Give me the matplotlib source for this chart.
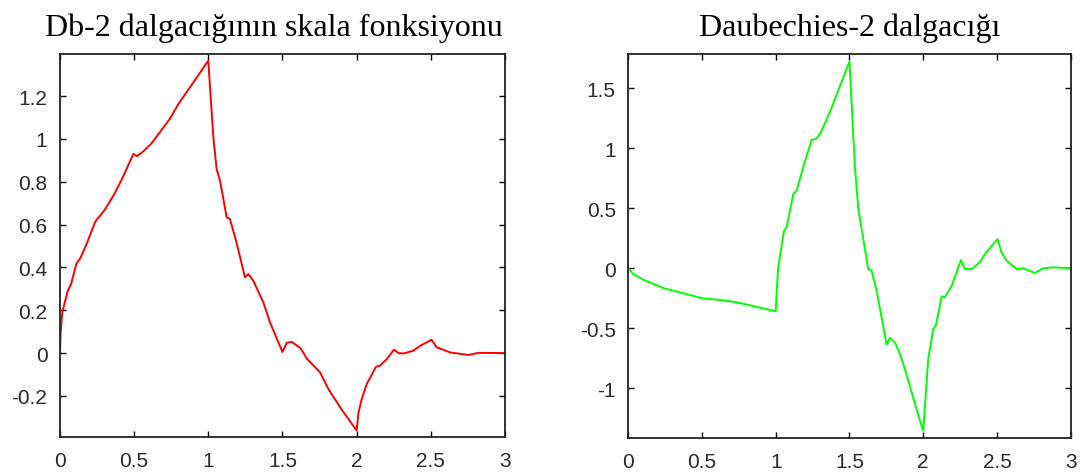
import matplotlib
matplotlib.use("Agg")
import matplotlib.pyplot as plt

# Db-2 scaling function
phi_x = [0, 0.005, 0.016, 0.052, 0.074, 0.112, 0.135, 0.18, 0.236, 0.25, 0.263,
         0.303, 0.36, 0.416, 0.495, 0.52, 0.562, 0.618, 0.742, 0.798, 0.9, 1.0,
         1.034, 1.056, 1.079, 1.124, 1.146, 1.19, 1.247, 1.27, 1.303, 1.371,
         1.416, 1.5, 1.529, 1.562, 1.618, 1.64, 1.663, 1.753, 1.81, 1.9, 2.0,
         2.012, 2.034, 2.068, 2.13, 2.158, 2.203, 2.252, 2.281, 2.315, 2.382,
         2.428, 2.505, 2.54, 2.63, 2.753, 2.82, 3.0]
phi_y = [0, 0.1, 0.19, 0.29, 0.32, 0.42, 0.44, 0.51, 0.61, 0.625, 0.635,
         0.67, 0.735, 0.81, 0.93, 0.92, 0.942, 0.98, 1.095, 1.163, 1.265, 1.366,
         1.008, 0.86, 0.805, 0.634, 0.626, 0.517, 0.354, 0.369, 0.338, 0.237,
         0.143, 0.005, 0.048, 0.052, 0.025, 0.003, -0.025, -0.09, -0.168, -0.265, -0.362,
         -0.28, -0.215, -0.145, -0.064, -0.059, -0.028, 0.016, 0.0, -0.002, 0.011,
         0.034, 0.062, 0.027, 0.003, -0.009, 0.001, 0.0]

# Db-2 wavelet
psi_x = [0, 0.034, 0.102, 0.237, 0.25, 0.35, 0.486, 0.5, 0.622, 0.735, 1.0,
         1.008, 1.017, 1.028, 1.056, 1.074, 1.119, 1.142, 1.186, 1.243, 1.273,
         1.3, 1.367, 1.5, 1.537, 1.56, 1.627, 1.65, 1.684, 1.752, 1.774, 1.808,
         1.842, 1.876, 1.978, 2.0, 2.034, 2.068, 2.086, 2.125, 2.147, 2.193,
         2.256, 2.283, 2.328, 2.384, 2.418, 2.504, 2.531, 2.565, 2.633, 2.678,
         2.757, 2.814, 2.881, 3.0]
psi_y = [0, -0.048, -0.095, -0.164, -0.17, -0.2, -0.245, -0.25, -0.264, -0.283, -0.358,
         -0.158, 0.008, 0.092, 0.313, 0.342, 0.619, 0.647, 0.842, 1.069, 1.078,
         1.119, 1.3, 1.725, 0.842, 0.494, -0.006, -0.02, -0.187, -0.637, -0.58, -0.617,
         -0.714, -0.839, -1.27, -1.353, -0.756, -0.506, -0.478, -0.233, -0.242, -0.145,
         0.069, -0.006, -0.006, 0.05, 0.119, 0.244, 0.133, 0.064, -0.006, 0.0,
         -0.039, 0.0, 0.008, 0.0]

x_ticks = [0, 0.5, 1, 1.5, 2, 2.5, 3]
x_labels = ["0", "0.5", "1", "1.5", "2", "2.5", "3"]
phi_ticks = [-0.2, 0, 0.2, 0.4, 0.6, 0.8, 1, 1.2]
phi_labels = ["-0.2", "0", "0.2", "0.4", "0.6", "0.8", "1", "1.2"]
psi_ticks = [-1, -0.5, 0, 0.5, 1, 1.5]
psi_labels = ["-1", "-0.5", "0", "0.5", "1", "1.5"]

fig = plt.figure(figsize=(10.86, 4.77), dpi=100)
ax1 = fig.add_axes([0.0552, 0.0818, 0.4098, 0.8029])
ax2 = fig.add_axes([0.5785, 0.0797, 0.4074, 0.805])


def style(ax, yt, yl, title, tx):
    ax.set_xlim(0, 3)
    ax.set_xticks(x_ticks)
    ax.set_xticklabels(x_labels)
    ax.set_yticks(yt)
    ax.set_yticklabels(yl)
    ax.tick_params(direction="in", length=4, width=1, top=True, right=True,
                   labelsize=15, labelcolor="#2a2a2a")
    ax.tick_params(axis="x", pad=10)
    ax.tick_params(axis="y", pad=9)
    for lab in ax.get_xticklabels() + ax.get_yticklabels():
        lab.set_family("Liberation Sans")
    for s in ax.spines.values():
        s.set_linewidth(1.3)
        s.set_color("#222222")
    ax.set_title(title, family="Liberation Serif", fontsize=23, pad=14, x=tx)


ax1.plot(phi_x, phi_y, color="#ff0000", lw=1.4)
ax1.set_ylim(-0.392, 1.397)
style(ax1, phi_ticks, phi_labels, "Db-2 dalgacığının skala fonksiyonu", 0.48)

ax2.plot(psi_x, psi_y, color="#00ff00", lw=1.4)
ax2.set_ylim(-1.414, 1.786)
style(ax2, psi_ticks, psi_labels, "Daubechies-2 dalgacığı", 0.5)

fig.savefig("out.png", dpi=100)
